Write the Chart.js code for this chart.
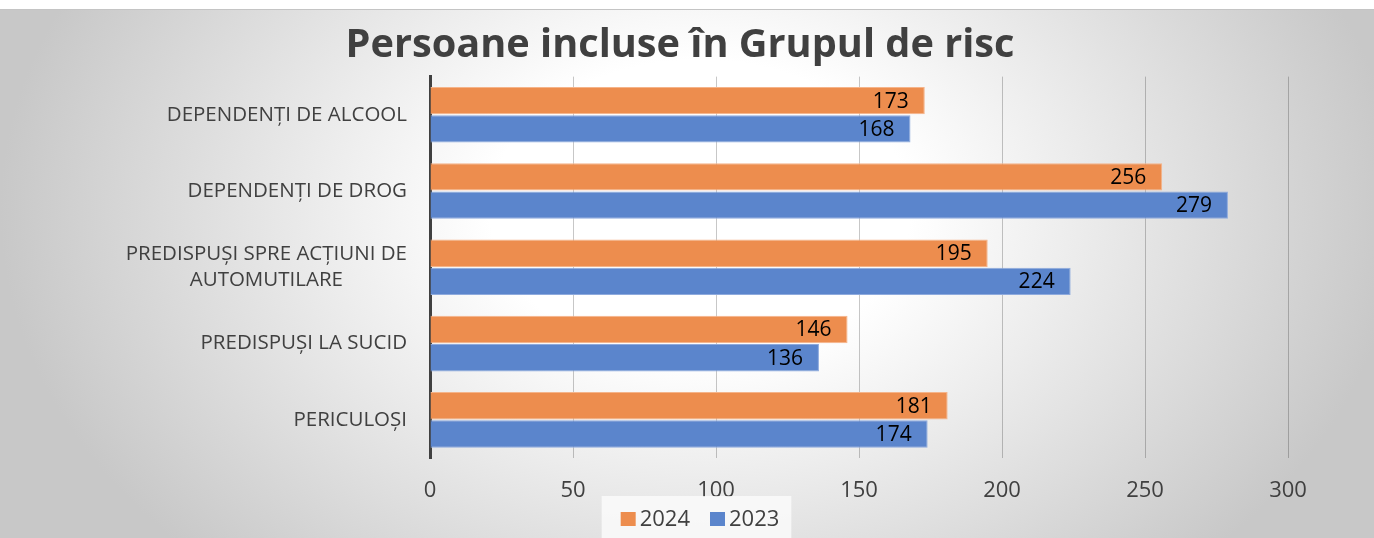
<!DOCTYPE html>
<html>
<head>
<meta charset="utf-8">
<script src="https://cdn.jsdelivr.net/npm/chart.js@4.4.1/dist/chart.umd.min.js"></script>
<style>
    body { margin: 0; background: #ffffff; }
    #frame {
        position: absolute; left: 0; top: 9px; width: 1374px; height: 528px;
        border-top: 1px solid #c4c4c4;
        background: radial-gradient(ellipse 700px 500px at 700px 200px, #ffffff 0%, #ffffff 30%, #c8c8c8 100%);
    }
    #chart { position: absolute; left: 0; top: 0; }
</style>
</head>
<body>
<div id="frame"></div>
<canvas id="chart" width="1374" height="538"></canvas>
<script>
// Chart data
const categories = [
    ['DEPENDENȚI DE ALCOOL'],
    ['DEPENDENȚI DE DROG'],
    ['PREDISPUȘI SPRE ACȚIUNI DE', 'AUTOMUTILARE'],
    ['PREDISPUȘI LA SUCID'],
    ['PERICULOȘI']
];
const values2024 = [173, 256, 195, 146, 181];
const values2023 = [168, 279, 224, 136, 174];
const seriesNames = ['2024', '2023'];
const xTicks = [0, 50, 100, 150, 200, 250, 300];

const TEXT_COLOR = '#404040';
const FONT = '"Open Sans", sans-serif';

/**
 * Category labels: right aligned block, lines centered inside it
 */
const categoryLabels = {
    id: 'categoryLabels',
    afterDraw(chart) {
        const ctx = chart.ctx;
        const yScale = chart.scales.y;
        const right = chart.chartArea.left - 23;
        const lineHeight = 26;
        ctx.save();
        ctx.font = '20.5px ' + FONT;
        ctx.fillStyle = TEXT_COLOR;
        ctx.textAlign = 'center';
        ctx.textBaseline = 'middle';
        categories.forEach((lines, i) => {
            const yc = yScale.getPixelForTick(i);
            const w = Math.max(...lines.map(l => ctx.measureText(l).width));
            const cx = right - w / 2;
            const y0 = yc - (lines.length - 1) * lineHeight / 2;
            lines.forEach((l, j) => ctx.fillText(l, cx, y0 + j * lineHeight));
        });
        ctx.restore();
    }
};

/**
 * Value labels inside the end of each bar
 */
const valueLabels = {
    id: 'valueLabels',
    afterDatasetsDraw(chart) {
        const ctx = chart.ctx;
        ctx.save();
        ctx.font = '21px ' + FONT;
        ctx.fillStyle = '#000000';
        ctx.textAlign = 'right';
        ctx.textBaseline = 'middle';
        chart.data.datasets.forEach((ds, di) => {
            chart.getDatasetMeta(di).data.forEach((bar, i) => {
                ctx.fillText(String(ds.data[i]), bar.x - 16, bar.y + 1);
            });
        });
        ctx.restore();
    }
};

/**
 * Legend box at the bottom
 */
const bottomLegend = {
    id: 'bottomLegend',
    afterDraw(chart) {
        const ctx = chart.ctx;
        const datasets = chart.data.datasets;
        const box = 15, gap = 4, spacing = 20;
        ctx.save();
        ctx.font = '22px ' + FONT;
        const widths = datasets.map(d => ctx.measureText(d.label).width);
        const total = widths.reduce((a, w) => a + box + gap + w, 0) + spacing * (datasets.length - 1);
        const cy = 519;
        let x = 700 - total / 2;
        ctx.fillStyle = 'rgba(250,250,250,0.85)';
        ctx.fillRect(x - 19, cy - 23, total + 31, 42);
        ctx.textBaseline = 'middle';
        ctx.textAlign = 'left';
        datasets.forEach((d, i) => {
            ctx.fillStyle = d.backgroundColor;
            ctx.fillRect(x, cy - 7, box, 14);
            ctx.fillStyle = TEXT_COLOR;
            ctx.fillText(d.label, x + box + gap, cy + 1);
            x += box + gap + widths[i] + spacing;
        });
        ctx.restore();
    }
};

const chart = new Chart(document.getElementById('chart'), {
    type: 'bar',
    data: {
        labels: categories.map(c => c.join(' ')),
        datasets: [
            {
                label: seriesNames[0],
                data: values2024,
                backgroundColor: '#ED8D4E',
                borderColor: '#F5B48A',
                borderWidth: 1,
                categoryPercentage: 0.74,
                barPercentage: 0.97
            },
            {
                label: seriesNames[1],
                data: values2023,
                backgroundColor: '#5B85CC',
                borderColor: '#8EAADD',
                borderWidth: 1,
                categoryPercentage: 0.74,
                barPercentage: 0.97
            }
        ]
    },
    options: {
        indexAxis: 'y',
        responsive: false,
        animation: false,
        devicePixelRatio: 1,
        layout: {
            padding: { left: 72, right: 86, top: 10, bottom: 0 }
        },
        plugins: {
            legend: { display: false },
            tooltip: { enabled: false },
            title: {
                display: true,
                text: 'Persoane incluse în Grupul de risc',
                color: TEXT_COLOR,
                font: { family: FONT, size: 39.7, weight: 'bold' },
                padding: { top: 12, bottom: 7 }
            }
        },
        scales: {
            x: {
                min: xTicks[0],
                max: xTicks[xTicks.length - 1],
                afterBuildTicks: s => { s.ticks = xTicks.map(v => ({ value: v })); },
                afterFit: s => { s.height = 80; },
                grid: { color: 'rgba(0,0,0,0.22)', lineWidth: 1, drawTicks: false },
                border: { display: false },
                ticks: {
                    color: TEXT_COLOR,
                    font: { family: FONT, size: 22 },
                    padding: 20
                }
            },
            y: {
                afterFit: s => { s.width = 430 - 72; },
                grid: { display: false },
                border: { display: true, color: '#404040', width: 3 },
                ticks: { display: false }
            }
        }
    },
    plugins: [categoryLabels, valueLabels, bottomLegend]
});
</script>
</body>
</html>
